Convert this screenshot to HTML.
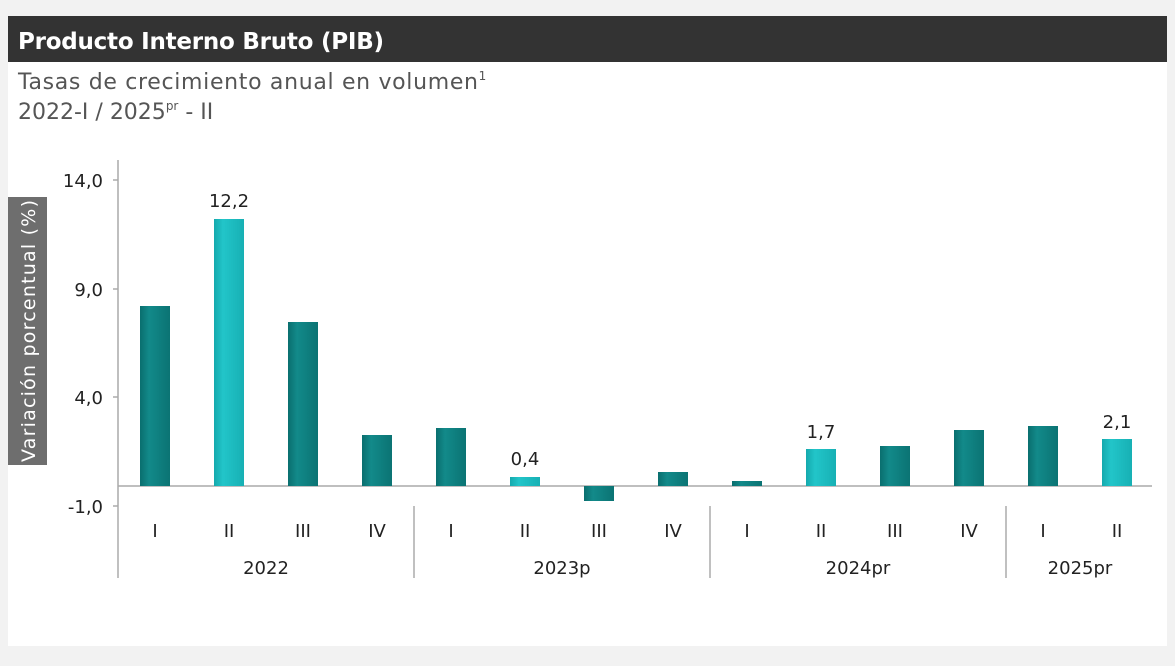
<!DOCTYPE html>
<html><head><meta charset="utf-8"><style>
body{margin:0;width:1175px;height:666px;background:#f2f2f2;font-family:"DejaVu Sans","Liberation Sans",sans-serif;overflow:hidden}
</style></head><body>
<svg width="1175" height="666" xmlns="http://www.w3.org/2000/svg" style="position:absolute;left:0;top:0">
<defs>
<linearGradient id="d" x1="0" x2="1"><stop offset="0" stop-color="#0a6e6e"/><stop offset="0.3" stop-color="#128a8a"/><stop offset="1" stop-color="#0b7373"/></linearGradient>
<linearGradient id="l" x1="0" x2="1"><stop offset="0" stop-color="#14a9ad"/><stop offset="0.3" stop-color="#22c5c9"/><stop offset="1" stop-color="#17b0b4"/></linearGradient>
</defs>
<rect x="8" y="16" width="1159" height="630" fill="#fff"/>
<rect x="8" y="16" width="1159" height="46" fill="#333"/>
<text x="18" y="49" font-size="23" font-weight="bold" fill="#fff" textLength="366">Producto Interno Bruto (PIB)</text>
<text x="18" y="89" font-size="22" fill="#555"><tspan textLength="460">Tasas de crecimiento anual en volumen</tspan><tspan font-size="12" dy="-9">1</tspan></text>
<text x="18" y="119" font-size="22" fill="#555">2022-I / 2025<tspan font-size="12" dy="-9">pr</tspan><tspan dy="9"> - II</tspan></text>
<rect x="8" y="197" width="39" height="268" fill="#6e6e6e"/>
<text transform="translate(35,331) rotate(-90)" text-anchor="middle" font-size="19" fill="#fff" textLength="262">Variación porcentual (%)</text>
<g stroke="#aaa" stroke-width="1.5">
<line x1="118" y1="160" x2="118" y2="506"/>
<line x1="113" y1="180" x2="118" y2="180"/><line x1="113" y1="289" x2="118" y2="289"/><line x1="113" y1="397" x2="118" y2="397"/><line x1="113" y1="506" x2="118" y2="506"/>
<line x1="118" y1="486" x2="1152" y2="486"/>
<line x1="118" y1="506" x2="118" y2="578"/><line x1="414" y1="506" x2="414" y2="578"/><line x1="710" y1="506" x2="710" y2="578"/><line x1="1006" y1="506" x2="1006" y2="578"/>
</g>
<g font-size="18" fill="#222" text-anchor="end">
<text x="103" y="187">14,0</text><text x="103" y="296">9,0</text><text x="103" y="404">4,0</text><text x="103" y="513">-1,0</text>
</g>
<g>
<rect x="140" y="306" width="30" height="180" fill="url(#d)"/>
<rect x="214" y="219" width="30" height="267" fill="url(#l)"/>
<rect x="288" y="322" width="30" height="164" fill="url(#d)"/>
<rect x="362" y="435" width="30" height="51" fill="url(#d)"/>
<rect x="436" y="428" width="30" height="58" fill="url(#d)"/>
<rect x="510" y="477" width="30" height="9" fill="url(#l)"/>
<rect x="584" y="486" width="30" height="15" fill="url(#d)"/>
<rect x="658" y="472" width="30" height="14" fill="url(#d)"/>
<rect x="732" y="481" width="30" height="5" fill="url(#d)"/>
<rect x="806" y="449" width="30" height="37" fill="url(#l)"/>
<rect x="880" y="446" width="30" height="40" fill="url(#d)"/>
<rect x="954" y="430" width="30" height="56" fill="url(#d)"/>
<rect x="1028" y="426" width="30" height="60" fill="url(#d)"/>
<rect x="1102" y="439" width="30" height="47" fill="url(#l)"/>
</g>
<g font-size="18" fill="#222" text-anchor="middle">
<text x="229" y="207">12,2</text><text x="525" y="465">0,4</text><text x="821" y="438">1,7</text><text x="1117" y="428">2,1</text>
<text x="155" y="537">I</text><text x="229" y="537">II</text><text x="303" y="537">III</text><text x="377" y="537">IV</text>
<text x="451" y="537">I</text><text x="525" y="537">II</text><text x="599" y="537">III</text><text x="673" y="537">IV</text>
<text x="747" y="537">I</text><text x="821" y="537">II</text><text x="895" y="537">III</text><text x="969" y="537">IV</text>
<text x="1043" y="537">I</text><text x="1117" y="537">II</text>
<text x="266" y="574">2022</text><text x="562" y="574">2023p</text><text x="858" y="574">2024pr</text><text x="1080" y="574">2025pr</text>
</g>
</svg>
</body></html>
